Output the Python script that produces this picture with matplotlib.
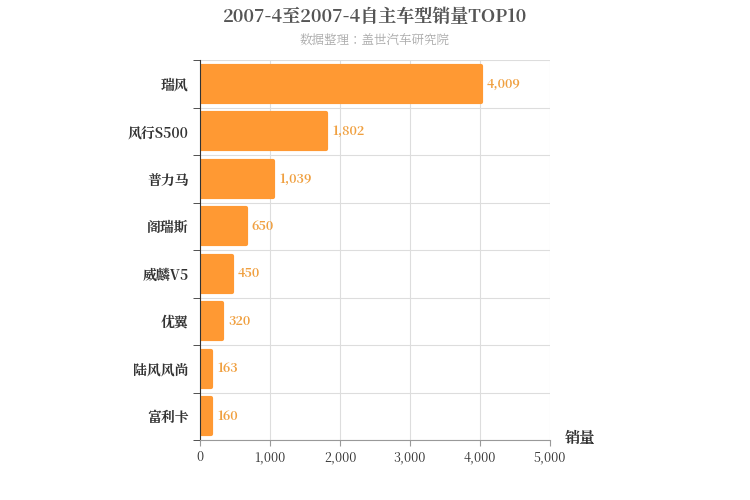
import matplotlib
matplotlib.use("Agg")
import matplotlib.pyplot as plt
from matplotlib import font_manager as fm

fam = None
for f in fm.findSystemFonts():
    if "CJK" in f or "cjk" in f.lower():
        try:
            fm.fontManager.addfont(f)
            name = fm.FontProperties(fname=f).get_name()
            if fam is None or "SC" in name:
                fam = name
        except Exception:
            pass
plt.rcParams['font.family'] = [fam or 'Noto Sans CJK SC', 'DejaVu Sans']

categories = ["瑞风", "风行S500", "普力马", "阁瑞斯", "威麟V5", "优翼", "陆风风尚", "富利卡"]
values = [4009, 1802, 1039, 650, 450, 320, 163, 160]
xticks = [0, 1000, 2000, 3000, 4000, 5000]

fig = plt.figure(figsize=(7.5, 5), dpi=100)
ax = fig.add_axes([200/750, 60/500, 350/750, 380/500])
n = len(categories)
ys = list(range(n))
bars = ax.barh(ys, values, height=0.76, color="#FF9933", edgecolor="#FF9933",
               linewidth=3, joinstyle="round")
ax.set_xlim(0, 5000)
ax.set_ylim(n - 0.5, -0.5)
ax.set_yticks(ys)
ax.set_yticklabels(categories, fontsize=10, fontweight="bold", color="#333333")
ax.set_xticks(xticks)
ax.set_xticklabels([f"{v:,}" for v in xticks], fontsize=9, color="#333333")
ax.set_yticks([i - 0.5 for i in range(n + 1)], minor=True)
ax.tick_params(axis="y", which="major", length=0, pad=8)
ax.tick_params(axis="y", which="minor", length=5, color="#333333")
ax.tick_params(axis="x", length=4, color="#999999")
ax.grid(axis="x", color="#dddddd", linewidth=0.8)
ax.grid(axis="y", which="minor", color="#dddddd", linewidth=0.8)
ax.set_axisbelow(True)
for s in ["top", "right"]:
    ax.spines[s].set_visible(False)
ax.spines["left"].set_color("#333333")
ax.spines["bottom"].set_color("#999999")
for y, v in zip(ys, values):
    ax.text(v + 90, y, f"{v:,}", va="center", ha="left", fontsize=9,
            fontweight="bold", color="#F0A040")
fig.text(375/750, 1 - 17/500, "2007-4至2007-4自主车型销量TOP10", ha="center", va="center",
         fontsize=13, fontweight="bold", color="#555555")
fig.text(375/750, 1 - 41/500, "数据整理：盖世汽车研究院", ha="center", va="center",
         fontsize=9, color="#aaaaaa")
fig.text(580/750, 1 - 438/500, "销量", ha="center", va="center", fontsize=11,
         fontweight="bold", color="#333333")
fig.savefig("out.png", dpi=100)
